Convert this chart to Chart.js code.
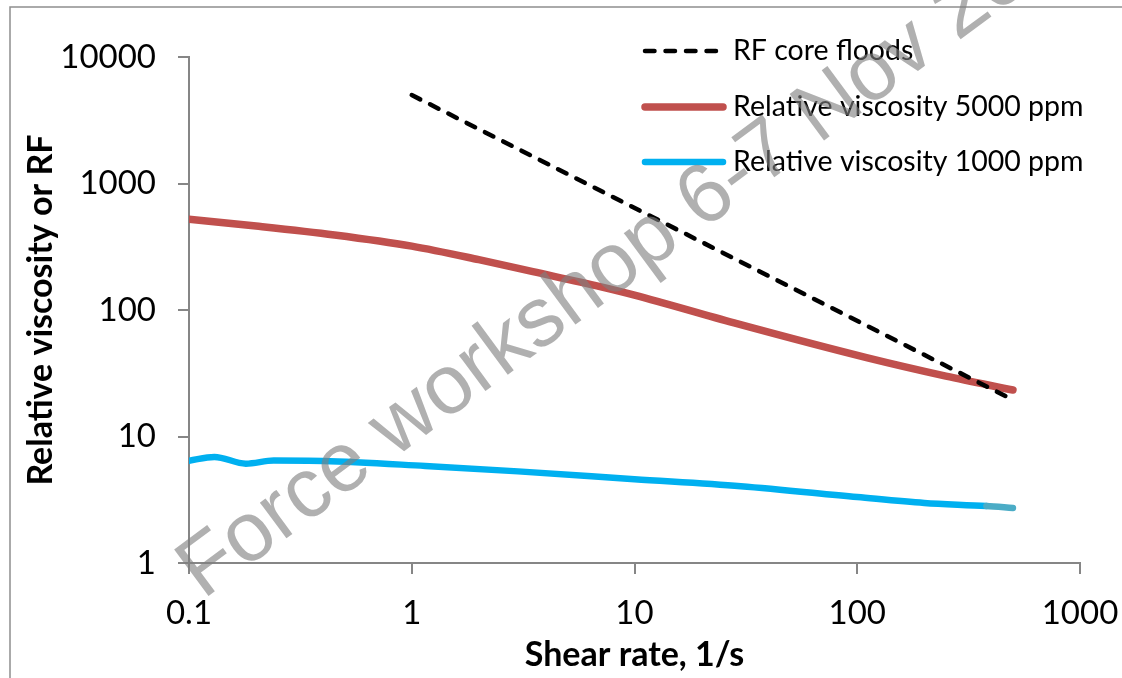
<!DOCTYPE html>
<html><head><meta charset="utf-8">
<script src="https://cdn.jsdelivr.net/npm/chart.js@4/dist/chart.umd.min.js"></script>
<style>html,body{margin:0;padding:0;background:#fff;}canvas{display:block}</style>
</head><body>
<canvas id="c" width="1122" height="678"></canvas>
<script>
const xTickValues = [0.1, 1, 10, 100, 1000];
const xTickLabels = ['0.1', '1', '10', '100', '1000'];
const yTickValues = [1, 10, 100, 1000, 10000];
const yTickLabels = ['1', '10', '100', '1000', '10000'];

const rfShear = [1, 500];
const rfValues = [5000, 19.5];

const shear5000 = [0.1, 0.2, 0.45, 1, 2, 3.5, 7, 10, 28, 110, 250, 500];
const visc5000 = [521, 461, 392, 320, 250, 201, 153, 131, 79, 42, 30, 23.3];

const shear1000 = [0.1, 0.13, 0.18, 0.24, 0.4, 1.15, 3, 10, 30, 100, 200, 380, 500];
const visc1000 = [6.44, 6.9, 6.1, 6.45, 6.4, 5.85, 5.3, 4.6, 4.05, 3.32, 2.98, 2.82, 2.72];

const seriesLabels = ['RF core floods', 'Relative viscosity 5000 ppm', 'Relative viscosity 1000 ppm'];
const watermarkText = 'Force workshop 6-7 Nov 2013';

const pts = (xs, ys) => xs.map((x, i) => ({x: x, y: ys[i]}));
const lastBlue = shear1000.length - 1;

const framePlugin = {
  id: 'frame',
  beforeDraw(chart) {
    const c = chart.ctx;
    c.save();
    c.fillStyle = '#fff';
    c.fillRect(0, 0, chart.width, chart.height);
    c.strokeStyle = '#8e8e8e';
    c.lineWidth = 1.5;
    c.strokeRect(10, 7, 1300, 900);
    c.restore();
  }
};

const legendPlugin = {
  id: 'customLegend',
  afterDraw(chart) {
    const c = chart.ctx;
    const rows = [51, 107, 162];
    c.save();
    chart.data.datasets.forEach((ds, i) => {
      const y = rows[i];
      c.beginPath();
      c.strokeStyle = ds.borderColor;
      c.lineWidth = ds.borderWidth;
      c.lineCap = 'round';
      c.setLineDash(ds.borderDash || []);
      c.moveTo(645, y);
      c.lineTo(723, y);
      c.stroke();
      c.setLineDash([]);
      c.fillStyle = '#000';
      c.font = '28.5px Lato';
      c.textBaseline = 'middle';
      c.textAlign = 'left';
      c.fillText(ds.label, 733, y);
    });
    c.restore();
  }
};

const watermarkPlugin = {
  id: 'watermark',
  afterDraw(chart) {
    const c = chart.ctx;
    c.save();
    c.translate(203, 600);
    c.rotate(-36.5 * Math.PI / 180);
    c.font = '84px "Liberation Sans"';
    c.fillStyle = 'rgba(128,128,128,0.62)';
    c.textBaseline = 'alphabetic';
    c.fillText(watermarkText, 0, 0);
    c.restore();
  }
};

const axisCommon = {
  type: 'logarithmic',
  grid: {drawOnChartArea: false, drawTicks: true, tickLength: 11, color: '#868686', lineWidth: 2},
  border: {color: '#868686', width: 2}
};

new Chart(document.getElementById('c').getContext('2d'), {
  type: 'line',
  data: {
    datasets: [
      {label: seriesLabels[0], data: pts(rfShear, rfValues), borderColor: '#000000', borderWidth: 4.5,
       borderDash: [9.5, 11], borderCapStyle: 'round', pointRadius: 0, fill: false},
      {label: seriesLabels[1], data: pts(shear5000, visc5000), borderColor: '#C0504D', borderWidth: 7.5,
       borderCapStyle: 'round', pointRadius: 0, fill: false, cubicInterpolationMode: 'monotone'},
      {label: seriesLabels[2], data: pts(shear1000, visc1000), borderColor: '#00B0F0', borderWidth: 6.5,
       borderCapStyle: 'round', pointRadius: 0, fill: false, cubicInterpolationMode: 'monotone',
       segment: {borderColor: ctx => ctx.p1DataIndex === lastBlue ? '#4BACC6' : undefined}}
    ]
  },
  options: {
    responsive: false,
    animation: false,
    devicePixelRatio: 1,
    layout: {padding: {left: 12, top: 57, right: 42, bottom: 0}},
    plugins: {legend: {display: false}, tooltip: {enabled: false}},
    scales: {
      x: Object.assign({}, axisCommon, {
        position: 'bottom',
        min: 0.1, max: 1000,
        afterBuildTicks: s => { s.ticks = xTickValues.map(v => ({value: v})); },
        afterFit: s => { s.height = 678 - 563; s.paddingLeft = 0; s.paddingRight = 0; },
        ticks: {callback: (v, i) => xTickLabels[i], autoSkip: false, maxRotation: 0, minRotation: 0,
                color: '#000', font: {family: 'Lato', size: 33}, padding: 20},
        title: {display: true, text: 'Shear rate, 1/s', color: '#000',
                font: {family: 'Lato', size: 34, weight: 'bold'}, padding: {top: 0, bottom: 3}}
      }),
      y: Object.assign({}, axisCommon, {
        position: 'left',
        min: 1, max: 10000,
        afterBuildTicks: s => { s.ticks = yTickValues.map(v => ({value: v})); },
        afterFit: s => { s.width = 189 - 12; s.paddingTop = 0; s.paddingBottom = 0; },
        ticks: {callback: (v, i) => yTickLabels[i], autoSkip: false, color: '#000',
                font: {family: 'Lato', size: 33}, padding: 22},
        title: {display: true, text: 'Relative viscosity or RF', color: '#000',
                font: {family: 'Lato', size: 34, weight: 'bold'}, padding: {top: 9, bottom: 0}}
      })
    }
  },
  plugins: [framePlugin, legendPlugin, watermarkPlugin]
});
</script>
</body></html>
